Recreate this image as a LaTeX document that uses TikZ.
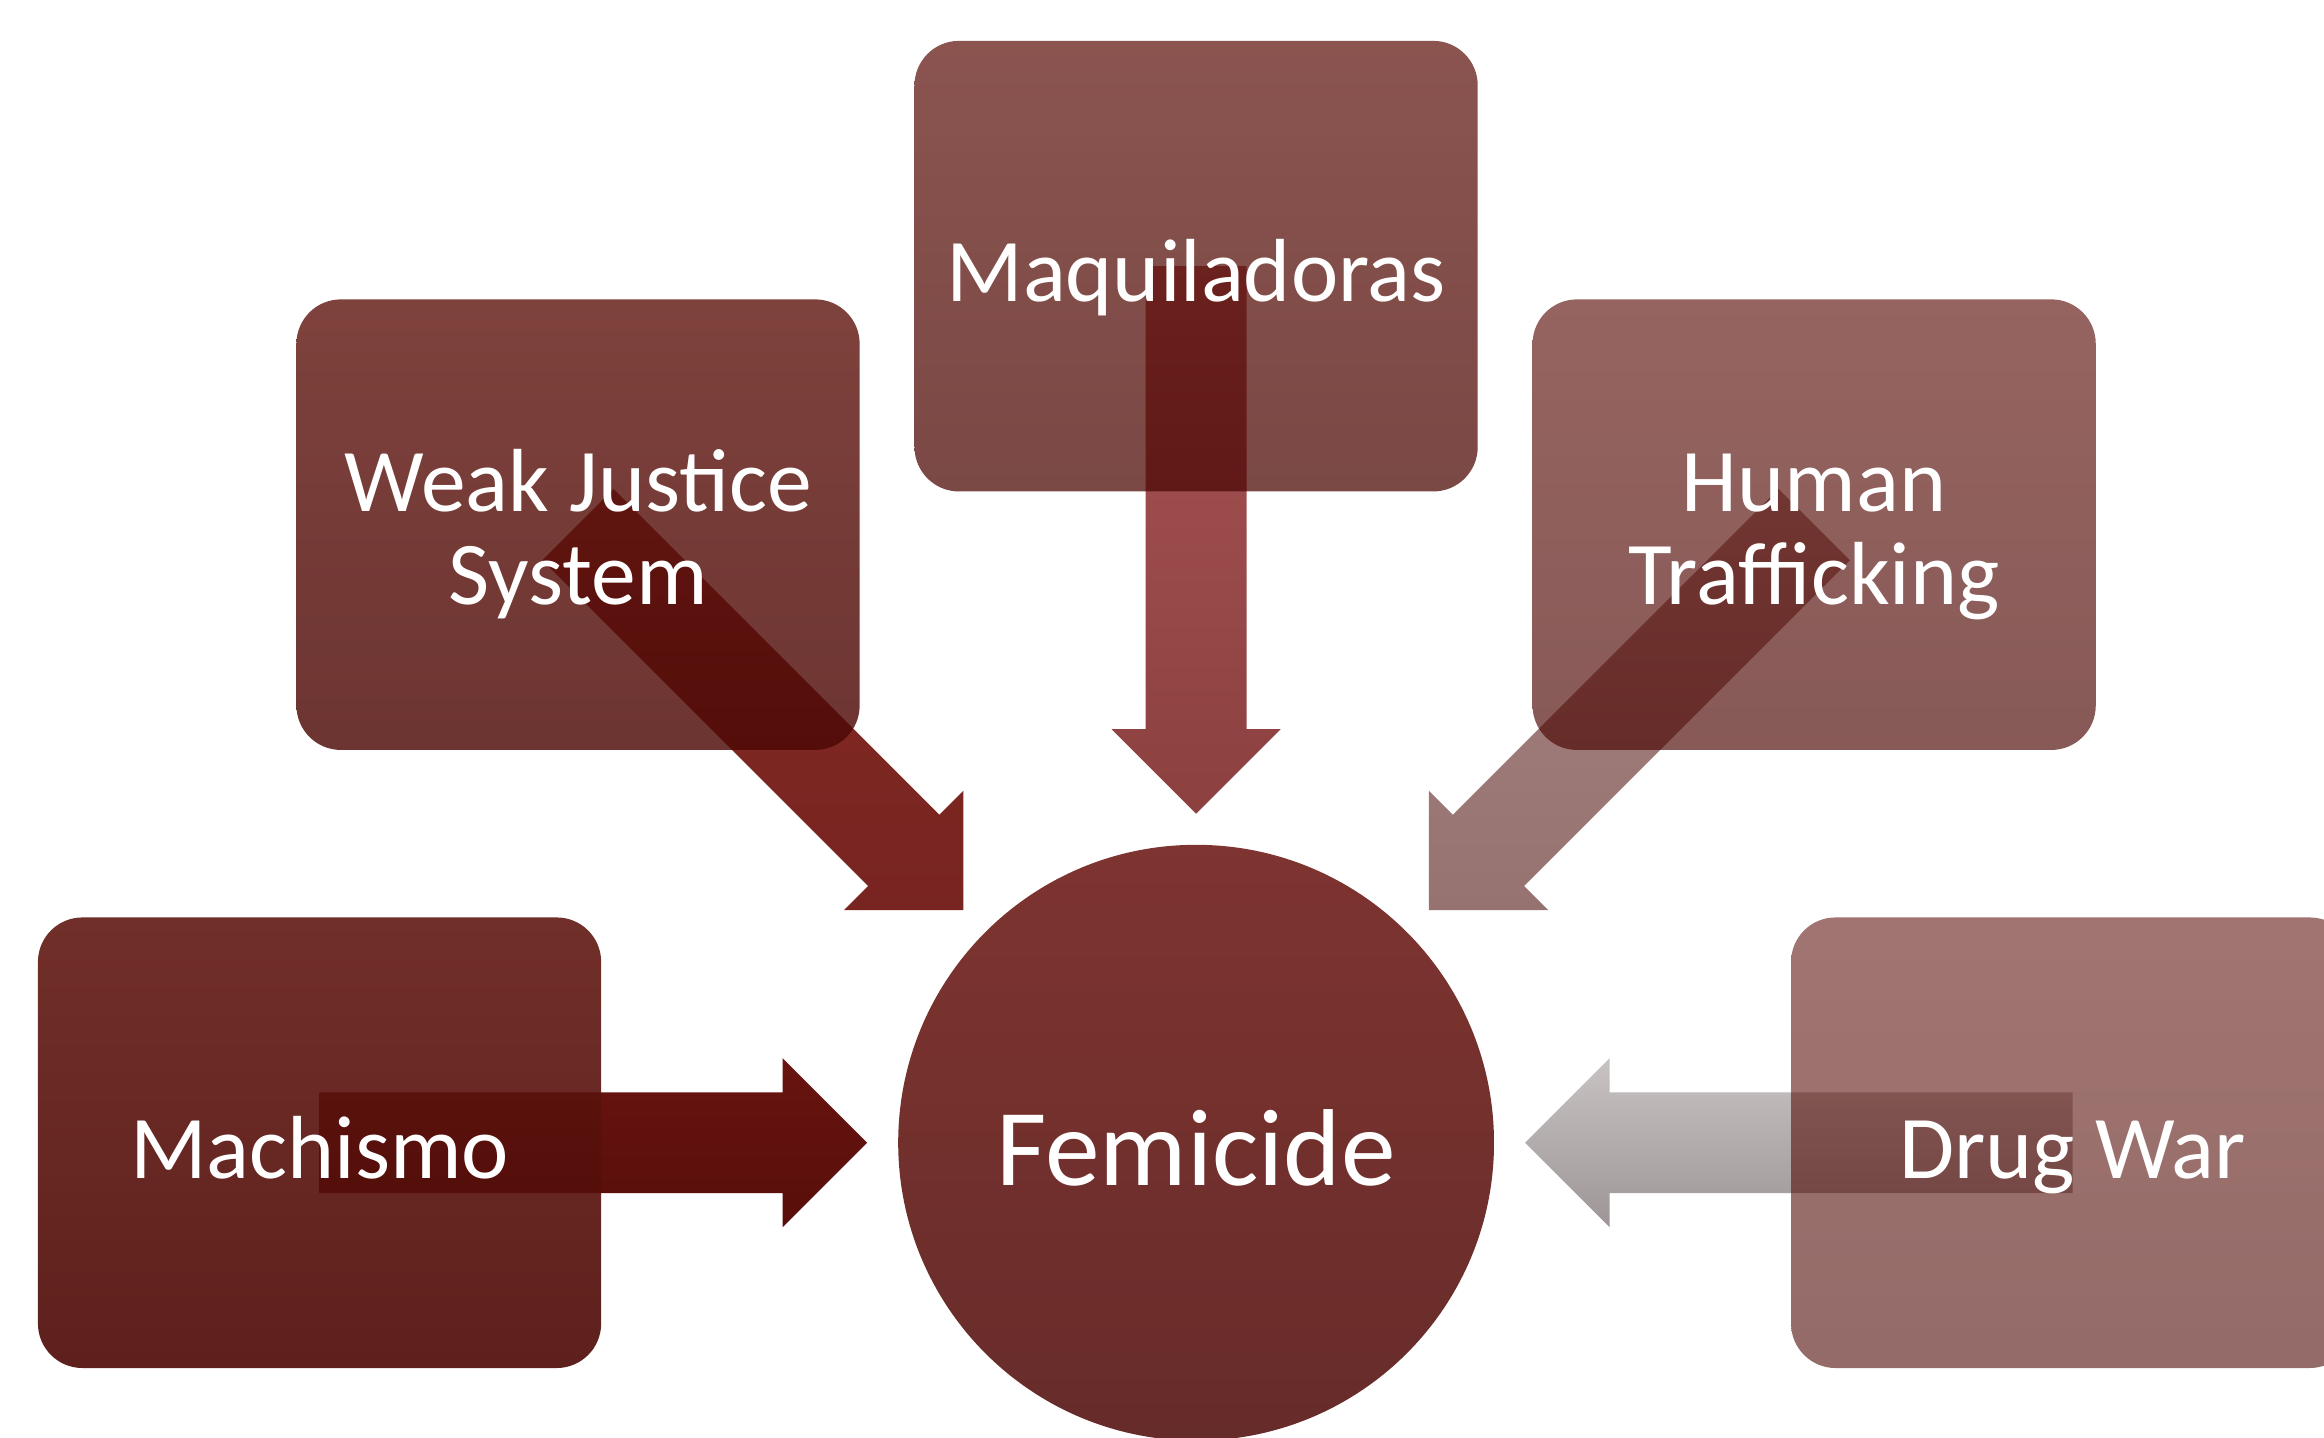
\documentclass[tikz,border=0pt]{standalone}
\usepackage{fontspec}
\setmainfont{Carlito}
\usetikzlibrary{positioning,
                calc,                       % points along the block arrows
                backgrounds}                % arrows go behind the boxes

\definecolor{causetop}{RGB}{98,24,18}
\definecolor{causebot}{RGB}{76,8,4}
\definecolor{femtop}{RGB}{126,52,48}
\definecolor{fembot}{RGB}{102,44,42}
\definecolor{machtop}{RGB}{104,20,16}
\definecolor{machbot}{RGB}{88,14,10}
\definecolor{weaktop}{RGB}{132,42,38}
\definecolor{weakbot}{RGB}{120,36,32}
\definecolor{maqtop}{RGB}{168,84,84}
\definecolor{maqbot}{RGB}{140,64,64}
\definecolor{humantop}{RGB}{166,130,128}
\definecolor{humanbot}{RGB}{150,114,112}
\definecolor{drugtop}{RGB}{200,194,194}
\definecolor{drugbot}{RGB}{158,150,150}

\tikzset{
  cause/.style={rectangle, rounded corners=0.3cm, minimum width=3.8cm,
                minimum height=3.04cm, inner sep=0pt, align=center,
                top color=causetop, bottom color=causebot,
                text=white, text opacity=1,
                text height=14.6pt, text depth=1pt,
                font=\fontsize{17.2}{17.9}\selectfont},
  twoline/.style={text height=31.6pt, text depth=1pt},
  effect/.style={circle, minimum size=4.02cm, inner sep=0pt,
                 top color=femtop, bottom color=fembot, text=white,
                 text height=17.4pt, text depth=1pt,
                 font=\fontsize{21}{24}\selectfont}
}

% block arrow from a cause box towards the circle
\newcommand\pushes[3]{%
  \coordinate (tip) at ($(fem)!2.22cm!(#1)$);
  \coordinate (neck) at ($(tip)!0.57cm!(#1)$);
  \shade[top color=#2, bottom color=#3]
    ($(#1)!0.34cm!90:(tip)$) -- ($(neck)!0.34cm!90:(tip)$)
    -- ($(neck)!0.57cm!90:(tip)$) -- (tip)
    -- ($(neck)!0.57cm!-90:(tip)$) -- ($(neck)!0.34cm!-90:(tip)$)
    -- ($(#1)!0.34cm!-90:(tip)$) -- cycle;
}

\begin{document}
\begin{tikzpicture}
  \useasboundingbox (0,0) rectangle (15.68,9.70);
  \clip (0,0) rectangle (15.68,9.70);

  \node[effect] (fem) at (8.07,1.99) {Femicide};

  \node[cause, fill opacity=0.9, left=1.99cm of fem] (mach) {Machismo};
  \node[cause, twoline, fill opacity=0.82] (weak) at (3.90,6.16) {Weak Justice\\System};
  \node[cause, fill opacity=0.74, above=2.37cm of fem] (maq) {Maquiladoras};
  \node[cause, twoline, fill opacity=0.67] (human) at (12.24,6.16) {Human\\Trafficking};
  \node[cause, fill opacity=0.6, right=1.99cm of fem] (drug) {Drug War};

  \begin{pgfonlayer}{background}
    \pushes{mach}{machtop}{machbot}
    \pushes{weak}{weaktop}{weakbot}
    \pushes{maq}{maqtop}{maqbot}
    \pushes{human}{humantop}{humanbot}
    \pushes{drug}{drugtop}{drugbot}
  \end{pgfonlayer}
\end{tikzpicture}
\end{document}
